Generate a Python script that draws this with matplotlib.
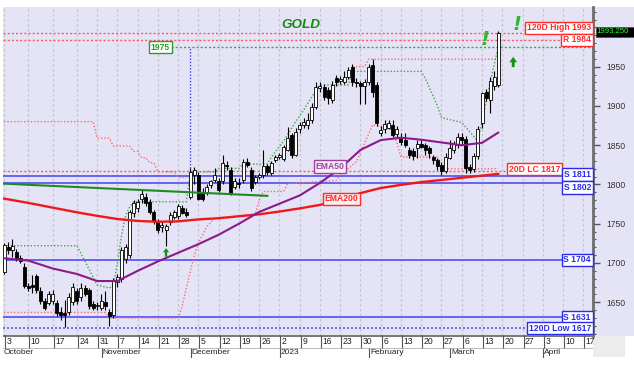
import numpy as np
import pandas as pd
import matplotlib
matplotlib.use("Agg")
import matplotlib.pyplot as plt
from matplotlib.patches import Rectangle

plt.rcParams['font.family'] = ['Liberation Sans', 'DejaVu Sans']

# sessions of the feed (three weekend sessions in October)
sessions = pd.bdate_range("2022-10-03", "2023-04-21")
sessions = sessions.append(pd.to_datetime(["2022-10-09", "2022-10-16", "2022-10-23"])).sort_values()
slot = {d: i for i, d in enumerate(sessions)}

def sx(d):
    return slot[pd.Timestamp(d)]

# daily candles, Oct 3 2022 .. Mar 17 2023
opens = [1689, 1720, 1716, 1714, 1706, 1695, 1671, 1672, 1683, 1664, 1651, 1649, 1651, 1649, 1638, 1636, 1638, 1650, 1664, 1657,
         1668, 1665, 1648, 1645, 1643, 1650, 1638, 1634, 1676, 1680, 1705, 1710, 1764, 1770, 1782, 1784, 1778, 1765, 1752, 1746,
         1742, 1752, 1759, 1760, 1770, 1765, 1784, 1812, 1812, 1791, 1789, 1799, 1806, 1804, 1804, 1825, 1818, 1797, 1802, 1806,
         1829, 1818, 1803, 1810, 1812, 1823, 1814, 1831, 1835, 1833, 1844, 1863, 1838, 1871, 1876, 1876, 1882, 1899, 1923, 1924,
         1920, 1908, 1935, 1932, 1931, 1937, 1950, 1931, 1929, 1925, 1931, 1952, 1927, 1866, 1870, 1872, 1876, 1864, 1860, 1856,
         1844, 1843, 1846, 1852, 1850, 1846, 1835, 1831, 1825, 1817, 1834, 1844, 1850, 1861, 1858, 1822, 1820, 1836, 1878, 1918,
         1908, 1926, 1927]
highs = [1726, 1727, 1730, 1718, 1710, 1700, 1674, 1685, 1686, 1670, 1656, 1664, 1666, 1653, 1644, 1653, 1662, 1674, 1668, 1674,
         1672, 1668, 1652, 1650, 1661, 1664, 1641, 1681, 1686, 1720, 1724, 1768, 1780, 1782, 1793, 1789, 1781, 1768, 1756, 1754,
         1750, 1765, 1768, 1775, 1774, 1770, 1821, 1822, 1816, 1796, 1800, 1806, 1821, 1808, 1838, 1830, 1822, 1808, 1808, 1833,
         1834, 1822, 1812, 1814, 1844, 1826, 1830, 1838, 1840, 1850, 1873, 1866, 1872, 1880, 1884, 1891, 1904, 1931, 1930, 1928,
         1924, 1932, 1940, 1938, 1945, 1949, 1953, 1936, 1932, 1934, 1954, 1960, 1930, 1874, 1882, 1882, 1882, 1874, 1866, 1866,
         1848, 1846, 1856, 1856, 1853, 1849, 1838, 1834, 1828, 1840, 1857, 1855, 1865, 1866, 1862, 1826, 1840, 1874, 1918, 1922,
         1937, 1944, 1995]
lows = [1686, 1712, 1708, 1703, 1700, 1668, 1664, 1662, 1662, 1648, 1640, 1646, 1648, 1632, 1627, 1619, 1634, 1646, 1648, 1652,
        1658, 1642, 1640, 1640, 1640, 1640, 1620, 1630, 1670, 1676, 1700, 1706, 1758, 1765, 1776, 1772, 1762, 1750, 1738, 1740,
        1721, 1748, 1756, 1756, 1762, 1758, 1782, 1800, 1780, 1779, 1786, 1796, 1803, 1790, 1800, 1818, 1786, 1794, 1796, 1802,
        1822, 1792, 1800, 1807, 1808, 1812, 1812, 1828, 1832, 1830, 1842, 1834, 1836, 1866, 1872, 1870, 1878, 1896, 1918, 1908,
        1903, 1904, 1926, 1928, 1928, 1934, 1926, 1924, 1903, 1903, 1927, 1912, 1874, 1862, 1866, 1871, 1860, 1860, 1850, 1848,
        1834, 1831, 1834, 1846, 1838, 1834, 1826, 1818, 1812, 1815, 1832, 1840, 1847, 1852, 1815, 1814, 1816, 1832, 1872, 1906,
        1891, 1920, 1924]
closes = [1723, 1716, 1722, 1706, 1703, 1671, 1668, 1670, 1666, 1651, 1643, 1661, 1661, 1636, 1634, 1634, 1657, 1670, 1652, 1668,
          1660, 1645, 1643, 1647, 1651, 1645, 1632, 1678, 1682, 1716, 1720, 1765, 1776, 1778, 1788, 1776, 1765, 1753, 1742, 1748,
          1747, 1761, 1765, 1772, 1764, 1761, 1816, 1818, 1782, 1782, 1797, 1804, 1812, 1793, 1827, 1823, 1789, 1804, 1800, 1829,
          1825, 1795, 1810, 1812, 1823, 1816, 1827, 1835, 1838, 1848, 1859, 1838, 1867, 1876, 1880, 1882, 1899, 1924, 1926, 1912,
          1910, 1927, 1931, 1934, 1937, 1946, 1931, 1929, 1925, 1931, 1950, 1918, 1878, 1869, 1877, 1878, 1863, 1870, 1854, 1850,
          1838, 1836, 1852, 1848, 1844, 1840, 1831, 1823, 1817, 1835, 1846, 1851, 1861, 1856, 1821, 1819, 1836, 1870, 1916, 1910,
          1932, 1937, 1993]

# moving averages read weekly
ma_dates = ["2022-10-03", "2022-10-10", "2022-10-17", "2022-10-24", "2022-10-31", "2022-11-07", "2022-11-14",
            "2022-11-21", "2022-11-28", "2022-12-05", "2022-12-12", "2022-12-19", "2022-12-26", "2023-01-02",
            "2023-01-09", "2023-01-16", "2023-01-23", "2023-01-30", "2023-02-06", "2023-02-13", "2023-02-20",
            "2023-02-27", "2023-03-06", "2023-03-13", "2023-03-17"]
ema200 = [1782, 1776.5, 1770.5, 1764.5, 1760, 1756, 1753.5, 1752.5, 1753, 1755.5, 1757, 1759.5, 1762, 1765.5,
          1769.5, 1774, 1781, 1789, 1795.5, 1799.5, 1803, 1805.7, 1808.5, 1811.2, 1813.4]
ema50 = [1706, 1703, 1693, 1686, 1677, 1677, 1690, 1702, 1713, 1724, 1736, 1750, 1765, 1775.5,
         1786, 1802, 1820.5, 1844, 1856.5, 1859.5, 1857, 1853.5, 1850, 1853, 1866]

# trend line
trend_dates = ["2022-10-03", "2022-12-28"]
trend_vals = [1801, 1785.5]

# trailing bands (dotted)
red_hi_dates = ["2022-10-03", "2022-10-28", "2022-10-31", "2022-11-03", "2022-11-04", "2022-11-10", "2022-11-11",
                "2022-11-14", "2022-11-15", "2022-11-16", "2022-11-17", "2022-11-18", "2022-11-21", "2022-11-25",
                "2022-11-28", "2022-11-30", None, "2023-01-26", "2023-01-31", "2023-02-01", "2023-03-17"]
red_hi_vals = [1880, 1880, 1859, 1859, 1849, 1849, 1842, 1842, 1834, 1834, 1827.5, 1827.5, 1816, 1816,
               1809, 1809, None, 1950, 1950, 1959.5, 1959.5]
red_lo_dates = ["2022-10-03", "2022-11-02", "2022-11-03", "2022-11-28", "2022-11-29", "2022-11-30", "2022-12-01",
                "2022-12-02", "2022-12-05", "2022-12-07", "2022-12-09", "2022-12-23", "2022-12-26", "2022-12-27",
                "2023-01-03", "2023-01-04", "2023-01-20", "2023-01-23", "2023-01-27", "2023-02-02", "2023-02-09",
                "2023-02-13", "2023-02-24", "2023-02-27", "2023-03-17"]
red_lo_vals = [1637, 1637, 1630, 1630, 1645, 1668, 1690, 1710, 1725, 1746, 1757, 1762, 1780, 1791,
               1791, 1801, 1805, 1812, 1829, 1876, 1870, 1835, 1835, 1820, 1820]
grn_dates = ["2022-10-03", "2022-10-24", "2022-10-31", "2022-11-03", "2022-11-04", "2022-11-07", "2022-11-08",
             "2022-11-09", "2022-11-10", "2022-11-11", "2022-11-30", "2022-12-01", "2022-12-09", "2022-12-12",
             "2022-12-19", "2022-12-20", "2022-12-28", "2022-12-29", "2023-01-03", "2023-01-06", "2023-01-10",
             "2023-01-13", "2023-01-16", "2023-01-25", "2023-01-26", "2023-02-20", "2023-02-21", "2023-02-24",
             "2023-02-27", "2023-03-06", "2023-03-10", "2023-03-13", "2023-03-15", "2023-03-17"]
grn_vals = [1722, 1722, 1672, 1668, 1672, 1700, 1735, 1760, 1771, 1778, 1778, 1816, 1816, 1820.5,
            1820.5, 1826, 1826, 1835, 1855, 1880, 1895, 1920, 1926.7, 1926.7, 1944, 1944, 1935, 1900,
            1885, 1879, 1855, 1880, 1930, 1975]

# horizontal levels
levels = {"120D High 1993": 1993, "R 1984": 1984, "20D LC 1817": 1817,
          "S 1811": 1811, "S 1802": 1802, "S 1704": 1704, "S 1631": 1631, "120D Low 1617": 1617}
target = 1975
last_price = "1993.250"

LAV = '#E4E4F6'
fig = plt.figure(figsize=(6.34, 3.71), dpi=100, facecolor='white')
fig.patches.append(Rectangle((3/634, 35/371), 631/634, 329/371, transform=fig.transFigure,
                             facecolor=LAV, edgecolor='none', zorder=-5))
fig.patches.append(Rectangle((593/634, 14/371), 32/634, 21/371, transform=fig.transFigure,
                             facecolor='#ECECEC', edgecolor='none', zorder=-5))

ax = fig.add_axes([3/634, 35/371, 590/634, 329/371])
ax.set_facecolor(LAV)
ax.set_xlim(-0.25, 145.4)
ax.set_ylim(1607, 2026)

mondays = pd.date_range("2022-10-03", "2023-04-17", freq="W-MON")
mon_x = [slot[d] for d in mondays]
for x in mon_x:
    ax.axvline(x, color='#C4C4CE', lw=0.9, ls=(0, (2, 2)), zorder=1)

n = len(closes)
xs = np.array([slot[d] for d in sessions[:n]])
o, h, l, c = map(np.array, (opens, highs, lows, closes))
ax.vlines(xs, l, h, color='black', lw=0.8, zorder=4)
up = c >= o
ax.bar(xs[up], (c - o)[up], bottom=o[up], width=0.74, facecolor='white', edgecolor='black', lw=0.6, zorder=5)
ax.bar(xs[~up], (o - c)[~up], bottom=c[~up], width=0.74, facecolor='black', edgecolor='black', lw=0.6, zorder=5)


def series(dates, vals):
    xx = [np.nan if d is None else sx(d) for d in dates]
    yy = [np.nan if v is None else v for v in vals]
    return xx, yy


dot = (0, (1, 1.4))
ax.plot(*series(red_hi_dates, red_hi_vals), color='#FF6A6A', lw=1, ls=dot, zorder=3)
ax.plot(*series(red_lo_dates, red_lo_vals), color='#FF6A6A', lw=1, ls=dot, zorder=3)
ax.plot(*series(grn_dates, grn_vals), color='#3DA63D', lw=1, ls=dot, zorder=3)

ax.plot(*series(ma_dates, ema200), color='#F01818', lw=1.7, zorder=6)
ax.plot(*series(ma_dates, ema50), color='#8B1A8B', lw=1.5, zorder=6)
ax.plot(*series(trend_dates, trend_vals), color='#1F8A1F', lw=1.5, zorder=6)

# level lines
red_c, blue_c, grn_c = '#FF2A2A', '#2B2BEE', '#2E9B2E'
for name, v in levels.items():
    if name.startswith("S "):
        ax.axhline(v, color='#5A5AF0', lw=1.3, zorder=2)
    elif name.startswith("120D Low"):
        ax.axhline(v, color='#5A5AF0', lw=1.2, ls=(0, (1.2, 1.2)), zorder=2)
    else:
        ax.axhline(v, color='#FF5A5A', lw=1, ls=(0, (1.5, 1.5)), zorder=2)
ax.hlines(target, sx("2022-11-24") + 0.3, 145.4, color='#3DA63D', lw=1, ls=(0, (1.5, 1.5)), zorder=2)
ax.vlines(sx("2022-12-01"), 1821, target, color='#4040F0', lw=1, ls=(0, (1, 1.3)), zorder=2)


def tag(text, x, y, color, dx=0, dy=0, xycoords=('axes fraction', 'data'), ha='right', fc='white'):
    ax.annotate(text, xy=(x, y), xycoords=xycoords, xytext=(dx, dy), textcoords='offset points',
                ha=ha, va='center', fontsize=6.2, fontweight='bold', color=color, zorder=9,
                bbox=dict(boxstyle='square,pad=0.2', fc=fc, ec=color, lw=1))


tag("120D High 1993", 1, 1993, red_c, -1.5, 3.6)
tag("R 1984", 1, 1984, red_c, -1.5, 0)
tag("20D LC 1817", 1, 1817, red_c, -23.5, 1.5)
tag("S 1811", 1, 1811, blue_c, -1.5, 1.0)
tag("S 1802", 1, 1802, blue_c, -1.5, -3.2)
tag("S 1704", 1, 1704, blue_c, -1.5, 0)
tag("S 1631", 1, 1631, blue_c, -1.5, 0)
tag("120D Low 1617", 1, 1617, blue_c, -1.5, 0)
tag("1975", sx("2022-11-24"), target, grn_c, 0, 0, xycoords='data')
tag("EMA50", sx("2023-01-18") + 0.5, 1823, '#A040A0', 0, 0, xycoords='data', ha='center', fc='#F6EEF6')
tag("EMA200", sx("2023-01-23") + 0.3, 1781.5, red_c, 0, 0, xycoords='data', ha='center', fc='#FCEEF0')

ax.text(0.504, 0.945, "GOLD", transform=ax.transAxes, ha='center', va='center', fontsize=9.7,
        fontweight='bold', fontstyle='italic', color='#138A13', zorder=9)
mark = '#2EB82E'
ax.text(sx("2023-03-13") + 0.8, 1984, "!", ha='center', va='center', fontsize=14, fontweight='bold',
        fontstyle='italic', family=['DejaVu Sans'], color=mark, zorder=9)
ax.text(sx("2023-03-23") + 0.6, 2004, "!", ha='center', va='center', fontsize=14, fontweight='bold',
        fontstyle='italic', family=['DejaVu Sans'], color=mark, zorder=9)
ax.annotate('', xy=(sx("2023-03-22") + 0.7, 1962.5), xytext=(sx("2023-03-22") + 0.7, 1949.5),
            arrowprops=dict(arrowstyle='simple,head_width=0.8,head_length=0.55,tail_width=0.3',
                            color='#149414', lw=0, shrinkA=0, shrinkB=0, mutation_scale=7), zorder=9)
ax.annotate('', xy=(sx("2022-11-23"), 1719), xytext=(sx("2022-11-23"), 1708),
            arrowprops=dict(arrowstyle='simple,head_width=0.8,head_length=0.55,tail_width=0.3',
                            color='#149414', lw=0, shrinkA=0, shrinkB=0, mutation_scale=5.5), zorder=9)

# right price axis
for s in ['left', 'top', 'bottom']:
    ax.spines[s].set_visible(False)
ax.spines['right'].set_color('#6E6E6E')
ax.spines['right'].set_linewidth(2)
ax.yaxis.tick_right()
ax.set_yticks(np.arange(1650, 2000, 50))
ax.set_yticks(np.arange(1610, 2030, 10), minor=True)
ax.tick_params(axis='y', which='major', length=5, width=1, color='#555555', labelsize=6.2,
               labelcolor='#333333', pad=5)
ax.tick_params(axis='y', which='minor', length=2.5, width=0.8, color='#555555')
ax.set_xticks([])

fig.patches.append(Rectangle((595.5/634, (371-36.7)/371), 40/634, 10/371, transform=fig.transFigure,
                             facecolor='black', edgecolor='#555555', lw=0.6, zorder=10))
fig.text(596.5/634, (371-31.7)/371, last_price, color='#30FF30', fontsize=5.6, va='center', ha='left', zorder=11)

# date band
axd = fig.add_axes([3/634, 13/371, 590/634, 23/371])
axd.set_xlim(ax.get_xlim())
axd.set_ylim(0, 1)
axd.set_facecolor('white')
axd.axis('off')
mid = 10/23
axd.axhline(1, color='#7A7A7A', lw=2.2)
axd.axhline(mid, color='#B0B0B0', lw=0.6)
for d, x in zip(mondays, mon_x):
    axd.vlines(x + 0.25, mid, 1, color='#555555', lw=0.8)
    axd.text(x + 0.6, (1 + mid) / 2 - 0.02, str(d.day), fontsize=6.2, color='#222222', ha='left', va='center')
month_starts = ["2022-11-01", "2022-12-01", "2023-01-02", "2023-02-01", "2023-03-01", "2023-04-03"]
month_names = ["November", "December", "2023", "February", "March", "April"]
axd.text(-0.1, mid / 2, "October", fontsize=6.0, color='#222222', ha='left', va='center')
for d, name in zip(month_starts, month_names):
    x = sx(d)
    axd.vlines(x + 0.1, 0, mid, color='#555555', lw=0.8)
    axd.text(x + 0.35, mid / 2, name, fontsize=6.0, color='#222222', ha='left', va='center')

fig.savefig("out.png", dpi=100, facecolor='white')
